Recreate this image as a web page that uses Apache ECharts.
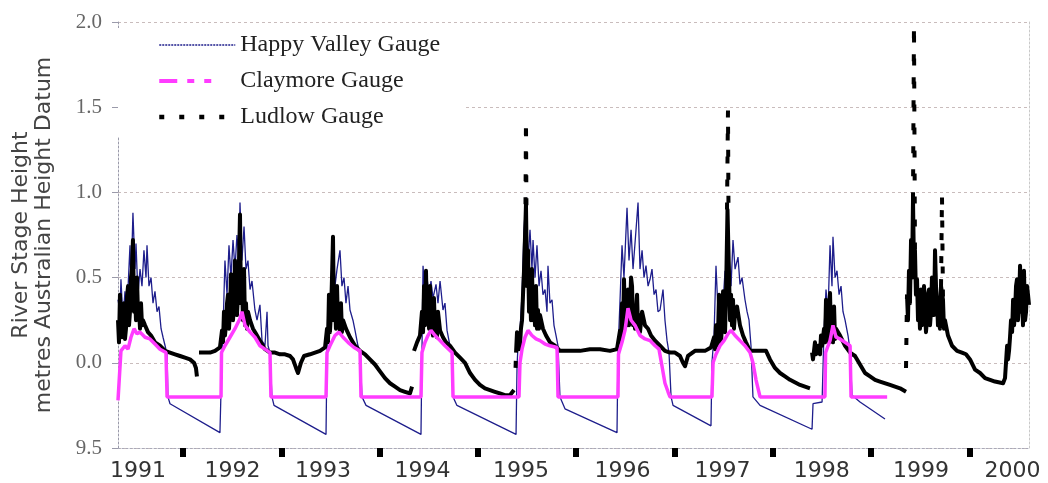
<!DOCTYPE html>
<html><head><meta charset="utf-8">
<script src="https://cdn.jsdelivr.net/npm/echarts@6/dist/echarts.min.js"></script>
<style>html,body{margin:0;padding:0;background:#fff}#c{width:1048px;height:483px}</style>
</head><body><div id="c"></div><script>
const seriesNames = ['Happy Valley Gauge', 'Claymore Gauge', 'Ludlow Gauge'];
const yTicks = [-0.5, 0, 0.5, 1, 1.5, 2];
const yTickLabels = ['9.5', '0.0', '0.5', '1.0', '1.5', '2.0'];
const yearTicks = [1992, 1993, 1994, 1995, 1996, 1997, 1998, 1999, 2000];
const yearLabelPos = [1991.542, 1992.504, 1993.424, 1994.436, 1995.438, 1996.471, 1997.488, 1998.498, 1999.508, 2000.438];
const yearLabels = ['1991', '1992', '1993', '1994', '1995', '1996', '1997', '1998', '1999', '2000'];
const yAxisTitle = 'River Stage Height\nmetres Australian Height Datum';

// [decimal year, metres AHD]
const happyValley = [
[1991.339,0.37],[1991.359,0.30],[1991.369,0.49],[1991.390,0.25],[1991.410,0.42],[1991.430,0.30],[1991.461,0.69],[1991.471,0.45],[1991.491,0.88],[1991.512,0.55],[1991.522,0.70],[1991.542,0.40],[1991.563,0.55],[1991.583,0.45],[1991.603,0.66],[1991.624,0.50],[1991.634,0.69],[1991.654,0.45],[1991.675,0.50],[1991.695,0.35],[1991.715,0.42],[1991.736,0.30],[1991.756,0.33],[1991.777,0.20],[1991.797,0.15],[1991.818,0.10],[1991.838,0.05],[1991.847,-0.20],[1991.868,-0.24],[1992.376,-0.41],
[1992.397,0.06],[1992.407,0.19],[1992.427,0.60],[1992.448,0.40],[1992.468,0.69],[1992.488,0.50],[1992.509,0.72],[1992.529,0.55],[1992.549,0.75],[1992.570,0.60],[1992.580,0.94],[1992.600,0.60],[1992.621,0.80],[1992.641,0.55],[1992.661,0.60],[1992.682,0.43],[1992.702,0.48],[1992.732,0.31],[1992.753,0.25],[1992.783,0.34],[1992.804,0.13],[1992.834,0.10],[1992.855,0.30],[1992.865,0.10],[1992.885,0.06],[1992.905,-0.20],[1992.926,-0.25],[1993.455,-0.42],
[1993.465,0.06],[1993.475,0.37],[1993.495,0.30],[1993.526,0.75],[1993.546,0.45],[1993.567,0.55],[1993.597,0.66],[1993.617,0.45],[1993.638,0.50],[1993.658,0.35],[1993.679,0.45],[1993.699,0.31],[1993.729,0.25],[1993.750,0.19],[1993.780,0.10],[1993.801,0.06],[1993.821,-0.20],[1993.862,-0.25],[1994.421,-0.42],
[1994.431,0.06],[1994.442,0.57],[1994.462,0.35],[1994.482,0.50],[1994.503,0.40],[1994.523,0.48],[1994.543,0.38],[1994.574,0.46],[1994.594,0.35],[1994.615,0.48],[1994.645,0.31],[1994.665,0.35],[1994.686,0.19],[1994.716,0.10],[1994.737,0.06],[1994.747,-0.20],[1994.787,-0.25],[1995.388,-0.42],
[1995.398,-0.02],[1995.408,0.10],[1995.428,0.19],[1995.449,0.40],[1995.469,0.78],[1995.489,0.97],[1995.510,0.60],[1995.530,0.78],[1995.550,0.55],[1995.561,0.72],[1995.581,0.50],[1995.601,0.69],[1995.622,0.45],[1995.642,0.54],[1995.662,0.40],[1995.683,0.43],[1995.703,0.30],[1995.713,0.57],[1995.733,0.35],[1995.754,0.37],[1995.774,0.22],[1995.795,0.16],[1995.815,0.10],[1995.835,-0.20],[1995.886,-0.27],[1996.415,-0.41],
[1996.425,0.06],[1996.446,0.37],[1996.466,0.69],[1996.486,0.50],[1996.517,0.91],[1996.537,0.60],[1996.558,0.78],[1996.578,0.55],[1996.598,0.70],[1996.629,0.94],[1996.649,0.55],[1996.670,0.66],[1996.690,0.50],[1996.710,0.57],[1996.731,0.45],[1996.751,0.49],[1996.771,0.55],[1996.792,0.40],[1996.812,0.43],[1996.832,0.30],[1996.853,0.31],[1996.883,0.43],[1996.903,0.25],[1996.924,0.13],[1996.944,0.06],[1996.965,-0.20],[1996.985,-0.25],[1997.371,-0.37],
[1997.381,0.00],[1997.402,0.16],[1997.422,0.57],[1997.443,0.30],[1997.463,0.37],[1997.483,0.25],[1997.514,0.54],[1997.534,0.40],[1997.554,0.63],[1997.575,0.45],[1997.595,0.72],[1997.616,0.55],[1997.646,0.62],[1997.666,0.46],[1997.687,0.50],[1997.717,0.37],[1997.738,0.30],[1997.758,0.25],[1997.778,0.10],[1997.798,-0.20],[1997.870,-0.25],[1998.399,-0.39],
[1998.409,-0.24],[1998.501,-0.23],[1998.521,0.19],[1998.541,0.43],[1998.562,0.30],[1998.582,0.69],[1998.602,0.45],[1998.612,0.74],[1998.633,0.50],[1998.653,0.54],[1998.674,0.40],[1998.694,0.45],[1998.714,0.30],[1998.735,0.25],[1998.765,0.16],[1998.786,0.07],[1998.806,-0.19],[1998.887,-0.23],[1999.141,-0.33]
];

const claymore = [
[1991.339,-0.22],[1991.359,-0.22],[1991.369,0.07],[1991.410,0.10],[1991.441,0.08],[1991.471,0.15],[1991.502,0.20],[1991.532,0.17],[1991.563,0.18],[1991.614,0.15],[1991.664,0.14],[1991.715,0.11],[1991.766,0.08],[1991.827,0.06],[1991.838,-0.20],[1992.387,-0.20],
[1992.392,0.06],[1992.427,0.10],[1992.478,0.15],[1992.529,0.20],[1992.580,0.26],[1992.600,0.30],[1992.631,0.22],[1992.682,0.18],[1992.732,0.15],[1992.783,0.10],[1992.834,0.08],[1992.885,0.06],[1992.895,-0.20],[1993.455,-0.20],
[1993.465,0.06],[1993.495,0.10],[1993.546,0.16],[1993.587,0.18],[1993.628,0.15],[1993.679,0.12],[1993.740,0.09],[1993.801,0.07],[1993.811,-0.20],[1994.421,-0.20],
[1994.431,0.06],[1994.462,0.12],[1994.492,0.16],[1994.523,0.19],[1994.564,0.16],[1994.615,0.13],[1994.665,0.10],[1994.737,0.06],[1994.747,-0.20],[1995.418,-0.20],
[1995.428,0.00],[1995.449,0.08],[1995.479,0.15],[1995.510,0.19],[1995.550,0.16],[1995.591,0.14],[1995.632,0.13],[1995.683,0.11],[1995.733,0.10],[1995.805,0.09],[1995.815,-0.20],[1996.425,-0.20],
[1996.430,0.05],[1996.466,0.12],[1996.496,0.19],[1996.527,0.32],[1996.558,0.25],[1996.598,0.22],[1996.649,0.16],[1996.700,0.14],[1996.751,0.13],[1996.802,0.10],[1996.842,0.08],[1996.873,-0.02],[1996.903,-0.12],[1996.934,-0.17],[1996.954,-0.20],[1997.381,-0.20],
[1997.392,0.00],[1997.422,0.05],[1997.463,0.10],[1997.504,0.13],[1997.544,0.17],[1997.575,0.19],[1997.616,0.16],[1997.666,0.13],[1997.717,0.10],[1997.768,0.06],[1997.798,0.00],[1997.829,-0.10],[1997.870,-0.20],[1998.530,-0.20],
[1998.537,0.06],[1998.562,0.10],[1998.582,0.13],[1998.612,0.22],[1998.643,0.15],[1998.684,0.14],[1998.735,0.12],[1998.786,0.10],[1998.796,-0.20],[1999.163,-0.20]
];

const ludlow = [
[1991.339,0.25],[1991.349,0.12],[1991.359,0.40],[1991.370,0.18],[1991.380,0.15],[1991.390,0.30],[1991.400,0.35],[1991.410,0.14],[1991.420,0.20],[1991.430,0.38],[1991.441,0.45],[1991.451,0.22],[1991.461,0.30],[1991.471,0.50],[1991.481,0.55],[1991.491,0.72],[1991.502,0.30],[1991.512,0.40],[1991.522,0.25],[1991.532,0.50],[1991.543,0.28],[1991.553,0.30],[1991.563,0.20],[1991.573,0.35],[1991.583,0.22],[1991.593,0.25],[1991.614,0.22],[1991.644,0.18],[1991.675,0.16],[1991.715,0.12],[1991.766,0.10],[1991.818,0.07],[1991.868,0.06],[1991.919,0.05],[1991.970,0.04],[1992.020,0.03],[1992.071,0.02],[1992.112,0.00],[1992.132,-0.03],[1992.142,-0.08],[1992.150,null],
[1992.163,0.06],[1992.224,0.06],[1992.275,0.06],[1992.326,0.07],[1992.376,0.09],
[1992.397,0.19],[1992.407,0.12],[1992.417,0.30],[1992.427,0.16],[1992.437,0.22],[1992.448,0.35],[1992.458,0.40],[1992.468,0.20],[1992.478,0.30],[1992.488,0.52],[1992.498,0.45],[1992.509,0.25],[1992.519,0.35],[1992.529,0.60],[1992.539,0.50],[1992.549,0.28],[1992.560,0.40],[1992.570,0.60],[1992.580,0.87],[1992.590,0.35],[1992.600,0.45],[1992.611,0.25],[1992.621,0.55],[1992.631,0.22],[1992.641,0.35],[1992.651,0.20],[1992.661,0.30],[1992.682,0.25],[1992.712,0.20],[1992.743,0.17],[1992.783,0.13],[1992.834,0.08],[1992.885,0.06],[1992.936,0.06],[1992.987,0.05],[1993.038,0.05],[1993.089,0.04],[1993.119,0.02],[1993.150,-0.03],[1993.170,-0.06],[1993.200,0.00],[1993.231,0.04],[1993.292,0.05],[1993.343,0.06],[1993.394,0.07],[1993.445,0.09],
[1993.465,0.20],[1993.475,0.12],[1993.485,0.40],[1993.495,0.18],[1993.506,0.30],[1993.516,0.50],[1993.526,0.74],[1993.536,0.25],[1993.546,0.40],[1993.556,0.20],[1993.567,0.45],[1993.577,0.22],[1993.587,0.30],[1993.597,0.18],[1993.607,0.35],[1993.617,0.18],[1993.628,0.25],[1993.658,0.20],[1993.699,0.15],[1993.750,0.10],[1993.801,0.07],[1993.852,0.05],[1993.902,0.02],[1993.953,-0.01],[1994.004,-0.05],[1994.055,-0.09],[1994.106,-0.12],[1994.157,-0.14],[1994.208,-0.16],[1994.258,-0.17],[1994.309,-0.18],[1994.330,-0.14],[1994.340,null],
[1994.350,0.07],[1994.381,0.12],[1994.411,0.16],
[1994.431,0.30],[1994.442,0.18],[1994.452,0.45],[1994.462,0.22],[1994.472,0.54],[1994.482,0.25],[1994.492,0.35],[1994.503,0.20],[1994.513,0.45],[1994.523,0.20],[1994.533,0.28],[1994.543,0.16],[1994.553,0.38],[1994.564,0.18],[1994.574,0.25],[1994.584,0.15],[1994.594,0.30],[1994.615,0.19],[1994.645,0.15],[1994.676,0.12],[1994.716,0.10],[1994.767,0.06],[1994.818,0.03],[1994.869,0.00],[1994.920,-0.06],[1994.971,-0.10],[1995.021,-0.13],[1995.072,-0.15],[1995.123,-0.16],[1995.173,-0.17],[1995.224,-0.18],[1995.275,-0.19],[1995.326,-0.19],[1995.367,-0.16],[1995.377,null],
[1995.388,0.06],[1995.398,0.18],[1995.408,0.15],[1995.418,0.08],[1995.428,0.10],[1995.438,0.20],[1995.449,0.25],[1995.459,0.40],[1995.469,0.54],[1995.489,0.93],[1995.500,0.45],[1995.510,0.66],[1995.520,0.30],[1995.530,0.43],[1995.540,0.25],[1995.550,0.55],[1995.561,0.25],[1995.571,0.37],[1995.581,0.22],[1995.591,0.45],[1995.601,0.20],[1995.611,0.31],[1995.622,0.20],[1995.632,0.28],[1995.662,0.20],[1995.693,0.16],[1995.733,0.12],[1995.784,0.10],[1995.835,0.07],[1995.937,0.07],[1996.039,0.07],[1996.140,0.08],[1996.242,0.08],[1996.344,0.07],[1996.415,0.08],
[1996.446,0.19],[1996.456,0.12],[1996.466,0.35],[1996.476,0.20],[1996.486,0.49],[1996.497,0.25],[1996.507,0.35],[1996.517,0.22],[1996.527,0.43],[1996.537,0.22],[1996.547,0.30],[1996.558,0.50],[1996.568,0.45],[1996.578,0.22],[1996.588,0.32],[1996.598,0.20],[1996.619,0.40],[1996.629,0.20],[1996.639,0.28],[1996.649,0.18],[1996.670,0.30],[1996.700,0.22],[1996.731,0.20],[1996.761,0.16],[1996.802,0.13],[1996.853,0.10],[1996.903,0.07],[1996.954,0.06],[1997.005,0.06],[1997.056,0.04],[1997.086,0.00],[1997.107,-0.02],[1997.137,0.04],[1997.208,0.07],[1997.310,0.07],[1997.371,0.09],
[1997.402,0.15],[1997.412,0.08],[1997.422,0.22],[1997.432,0.10],[1997.443,0.18],[1997.453,0.40],[1997.463,0.28],[1997.473,0.12],[1997.483,0.22],[1997.494,0.42],[1997.504,0.35],[1997.514,0.18],[1997.524,0.40],[1997.539,0.90],[1997.555,0.50],[1997.565,0.25],[1997.575,0.40],[1997.585,0.22],[1997.595,0.37],[1997.605,0.20],[1997.616,0.30],[1997.636,0.33],[1997.666,0.22],[1997.697,0.16],[1997.727,0.12],[1997.768,0.07],[1997.870,0.07],[1997.931,0.07],[1997.971,0.02],[1998.022,-0.03],[1998.073,-0.06],[1998.124,-0.08],[1998.175,-0.10],[1998.277,-0.13],[1998.378,-0.15],[1998.388,null],
[1998.399,0.06],[1998.409,0.02],[1998.429,0.12],[1998.440,0.05],[1998.460,0.10],[1998.480,0.05],[1998.490,0.16],[1998.501,0.10],[1998.521,0.20],[1998.531,0.12],[1998.541,0.37],[1998.551,0.15],[1998.562,0.25],[1998.572,0.12],[1998.582,0.41],[1998.592,0.15],[1998.602,0.28],[1998.612,0.12],[1998.623,0.33],[1998.633,0.14],[1998.643,0.20],[1998.684,0.16],[1998.735,0.10],[1998.786,0.06],[1998.836,0.04],[1998.887,-0.01],[1998.938,-0.06],[1998.989,-0.08],[1999.040,-0.10],[1999.090,-0.11],[1999.192,-0.13],[1999.294,-0.15],[1999.355,-0.17],[1999.360,null],
[1999.365,0.40],[1999.375,0.25],[1999.385,0.54],[1999.395,0.35],[1999.406,0.72],[1999.416,0.50],[1999.426,0.96],[1999.436,0.55],[1999.446,0.66],[1999.456,0.40],[1999.467,0.49],[1999.477,0.25],[1999.487,0.37],[1999.497,0.20],[1999.507,0.43],[1999.517,0.22],[1999.528,0.28],[1999.538,0.45],[1999.548,0.31],[1999.558,0.18],[1999.568,0.25],[1999.578,0.40],[1999.589,0.43],[1999.599,0.22],[1999.609,0.30],[1999.619,0.50],[1999.629,0.43],[1999.640,0.28],[1999.650,0.66],[1999.660,0.45],[1999.670,0.37],[1999.680,0.22],[1999.690,0.30],[1999.700,0.20],[1999.711,0.45],[1999.731,0.37],[1999.741,0.20],[1999.751,0.25],[1999.782,0.16],[1999.823,0.10],[1999.874,0.07],[1999.924,0.06],[1999.965,0.05],[2000.006,0.02],[2000.057,-0.04],[2000.108,-0.06],[2000.159,-0.09],[2000.210,-0.10],[2000.260,-0.11],[2000.342,-0.12],[2000.362,-0.09],[2000.383,0.10],[2000.393,0.02],[2000.403,0.07],[2000.413,0.15],[2000.423,0.25],[2000.434,0.18],[2000.444,0.37],[2000.454,0.22],[2000.464,0.30],[2000.474,0.45],[2000.484,0.49],[2000.494,0.25],[2000.505,0.35],[2000.515,0.57],[2000.525,0.30],[2000.535,0.40],[2000.545,0.22],[2000.555,0.54],[2000.566,0.25],[2000.576,0.30],[2000.586,0.45],[2000.596,0.40],[2000.606,0.34]
];

// isolated Ludlow surges, drawn dashed
const ludlowSpikes = [
[1995.383,-0.03],[1995.388,0.06],[1995.390,null],
[1995.484,0.93],[1995.489,1.42],[1995.494,0.90],[1995.500,null],
[1997.534,0.90],[1997.544,1.48],[1997.549,0.90],[1997.552,null],
[1999.355,-0.03],[1999.365,0.40],[1999.370,null],
[1999.426,0.96],[1999.436,1.98],[1999.446,0.66],[1999.450,null],
[1999.711,0.45],[1999.721,0.98],[1999.731,0.37]
];

const toData = arr => arr.map(p => p[1] === null ? [p[0], '-'] : [p[0], p[1]]);
const colors = { hv: '#1e1e8c', cl: '#ff3cff', lu: '#000000' };
const hiddenSymbol = { opacity: 0, borderWidth: 0 };

const chart = echarts.init(document.getElementById('c'), null, { renderer: 'canvas' });
chart.setOption({
  animation: false,
  backgroundColor: '#ffffff',
  grid: { left: 118, right: 19, top: 22, bottom: 35, containLabel: false },
  legend: {
    orient: 'vertical', left: 118, top: 28,
    padding: [5, 24, 8, 39],
    backgroundColor: '#ffffff',
    itemWidth: 76, itemHeight: 14, itemGap: 12,
    textStyle: { fontFamily: 'Liberation Serif', fontSize: 24, color: '#222' },
    data: [
      { name: seriesNames[0], itemStyle: hiddenSymbol, lineStyle: { color: colors.hv, width: 1.5, type: [2, 1] } },
      { name: seriesNames[1], itemStyle: hiddenSymbol, lineStyle: { color: colors.cl, width: 4, type: [18, 10, 7, 10, 7, 100], cap: 'butt' } },
      { name: seriesNames[2], itemStyle: hiddenSymbol, lineStyle: { color: colors.lu, width: 4.5, type: [5, 15] } }
    ]
  },
  xAxis: {
    type: 'value', min: 1991.339, max: 2000.606,
    axisLine: { show: true, onZero: false, lineStyle: { color: '#a9a9b8', type: [2, 2], width: 1 } },
    axisTick: { show: true, customValues: yearTicks, length: 9, lineStyle: { color: '#000', width: 6 } },
    axisLabel: {
      customValues: yearLabelPos, margin: 12,
      fontFamily: 'DejaVu Sans', fontSize: 22, color: '#333',
      formatter: v => { let b = 0; yearLabelPos.forEach((p, i) => { if (Math.abs(p - v) < Math.abs(yearLabelPos[b] - v)) b = i; }); return yearLabels[b]; }
    },
    splitLine: { show: false }
  },
  yAxis: [{
    type: 'value', min: -0.5, max: 2, interval: 0.5,
    name: yAxisTitle, nameLocation: 'middle', nameGap: 62, nameRotate: 90,
    nameTextStyle: { fontFamily: 'DejaVu Sans', fontSize: 22, color: '#444', lineHeight: 23 },
    axisLine: { show: true, lineStyle: { color: '#9a9aaa', type: [2, 2] } },
    axisTick: { show: true, length: 6, lineStyle: { color: '#9a9aaa' } },
    axisLabel: {
      margin: 16, fontFamily: 'Liberation Serif', fontSize: 21, color: '#666',
      formatter: v => { const i = yTicks.findIndex(t => Math.abs(t - v) < 1e-6); return i >= 0 ? yTickLabels[i] : ''; }
    },
    splitLine: { show: true, lineStyle: { color: '#c9bcbc', type: [3, 3], width: 1 } }
  }, {
    type: 'value', min: -0.5, max: 2, interval: 0.5, position: 'right',
    axisLine: { show: true, lineStyle: { color: '#c9c9c9', type: [2, 2] } },
    axisTick: { show: false }, axisLabel: { show: false }, splitLine: { show: false }
  }],
  series: [
    { name: seriesNames[0], type: 'line', data: toData(happyValley), showSymbol: false, symbol: 'none',
      lineStyle: { color: colors.hv, width: 1.3 }, itemStyle: { color: colors.hv }, z: 2 },
    { name: seriesNames[2], type: 'line', data: toData(ludlow), showSymbol: false, symbol: 'none', connectNulls: false,
      lineStyle: { color: colors.lu, width: 4, join: 'round' }, itemStyle: { color: colors.lu }, z: 3 },
    { name: seriesNames[2], type: 'line', data: toData(ludlowSpikes), showSymbol: false, symbol: 'none', connectNulls: false,
      lineStyle: { color: colors.lu, width: 4, type: [7, 16] }, itemStyle: { color: colors.lu }, z: 3 },
    { name: seriesNames[1], type: 'line', data: toData(claymore), showSymbol: false, symbol: 'none',
      lineStyle: { color: colors.cl, width: 3.5 }, itemStyle: { color: colors.cl }, z: 4 }
  ]
});
</script></body></html>
